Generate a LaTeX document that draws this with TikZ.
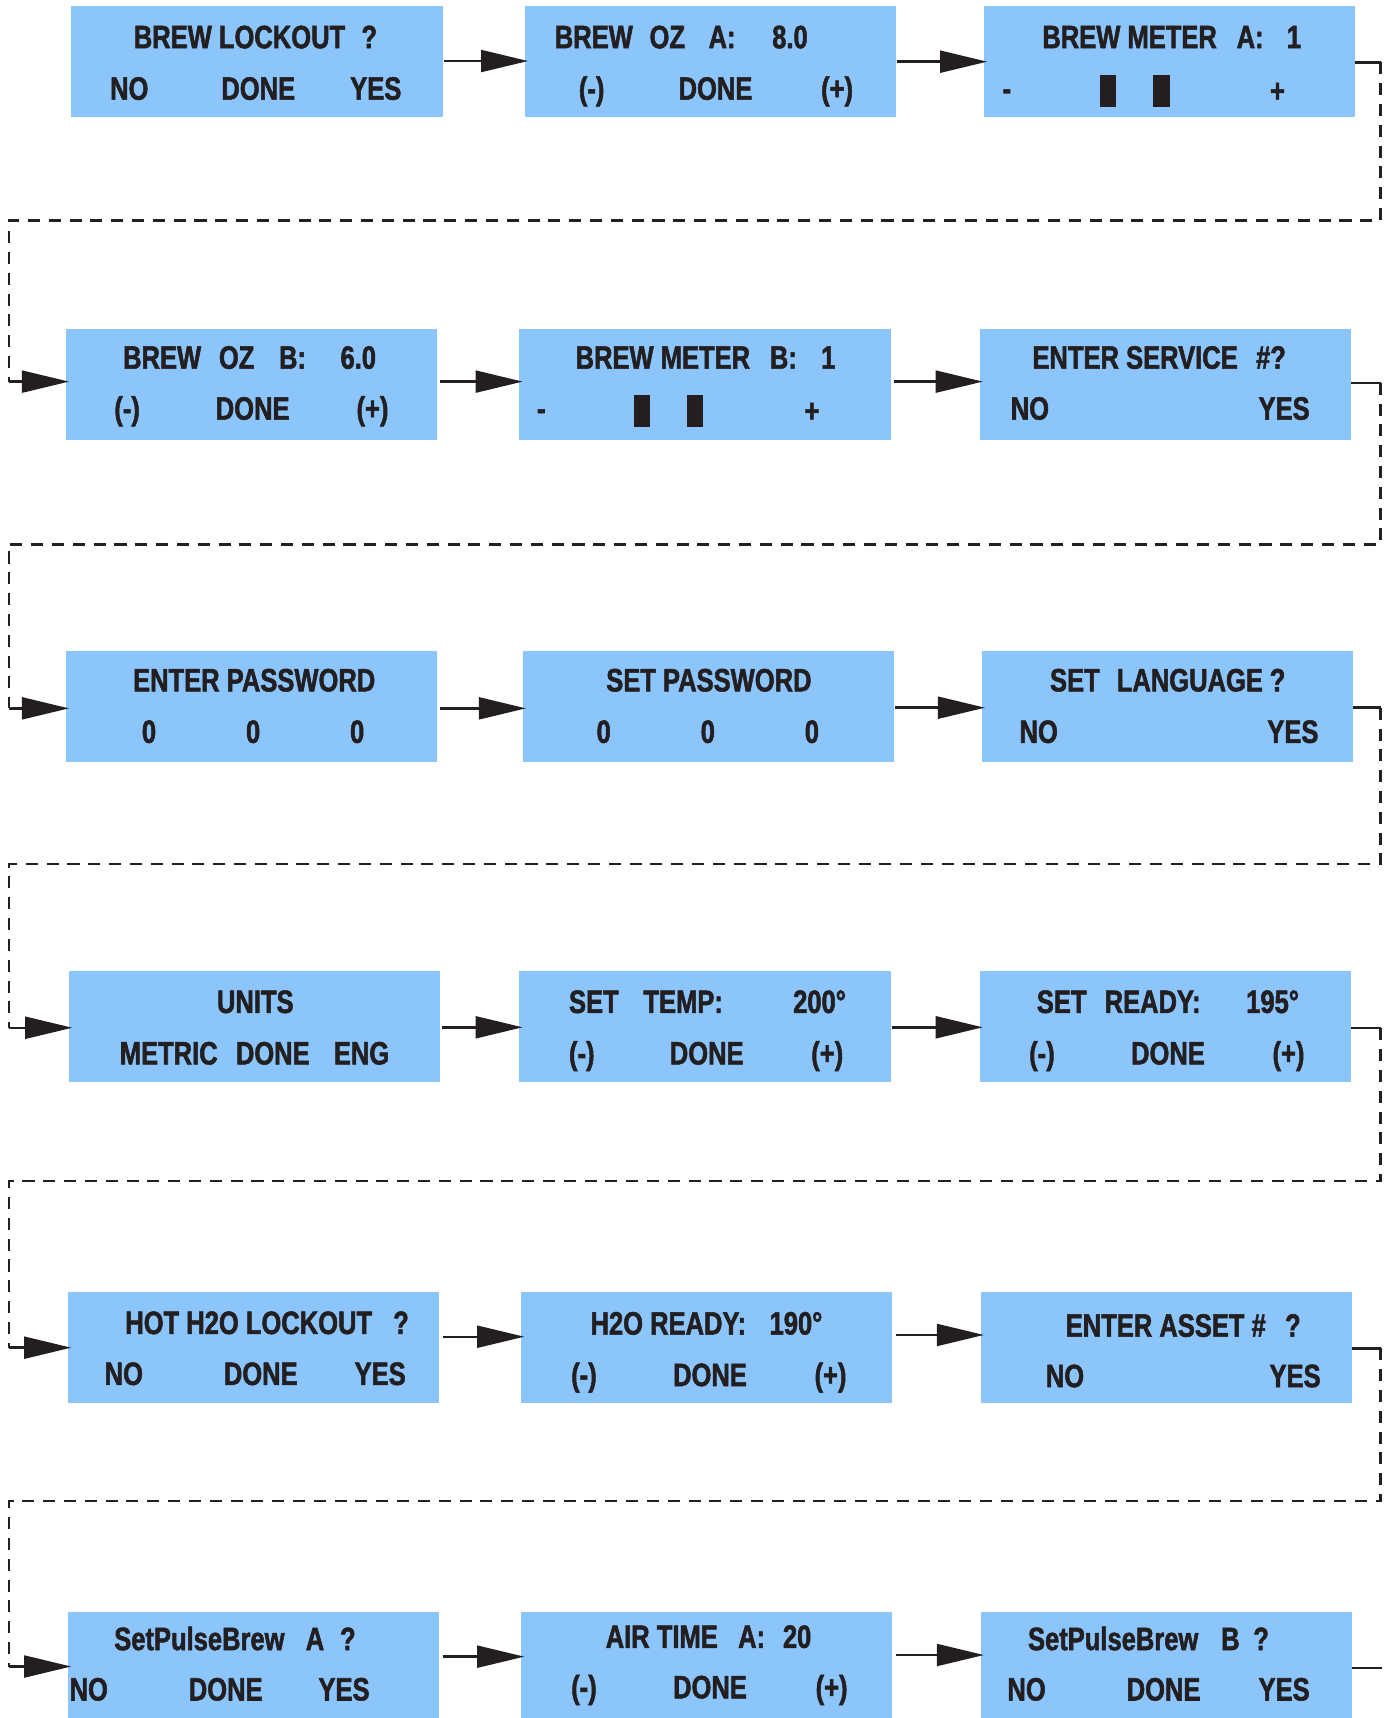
\documentclass[tikz,border=0pt]{standalone}
\usepackage{fontspec}
\newfontfamily\condfont{Liberation Sans}[UprightFont=* Bold, FakeStretch=0.79, FakeBold=1.6]
\usetikzlibrary{arrows.meta}
\definecolor{boxblue}{RGB}{139,197,252}
\definecolor{ink}{RGB}{35,31,32}
\newcounter{lblc}
\newcommand\lbl[3]{\stepcounter{lblc}\node[txt] (lbl\arabic{lblc}) at (#1,#2) {#3};}
\begin{document}
\begin{tikzpicture}[x=1pt,y=-1pt,
  box/.style={fill=boxblue, draw=none, minimum width=339pt, minimum height=101.5pt, inner sep=0pt, outer sep=0pt, anchor=north west},
  txt/.style={text=ink, font=\condfont\fontsize{29.5}{30}\selectfont, inner sep=0pt, anchor=base},
  arr/.style={draw=ink, line width=2.2pt, -{Triangle[length=43pt,width=20pt]}, shorten >=-3pt},
  conn/.style={draw=ink, line width=2.2pt},
  dline/.style={draw=ink, line width=2.2pt, dash pattern=on 11pt off 8pt}]
\useasboundingbox (0,0) rectangle (1265,1568);
\clip (0,0) rectangle (1265,1568);

% boxes
\node[box] (b1) at (65,5.5) {};
\node[box] (b2) at (479,5.5) {};
\node[box] (b3) at (898,5.5) {};
\node[box] (b4) at (60,300.5) {};
\node[box] (b5) at (474,300.5) {};
\node[box] (b6) at (894,300.5) {};
\node[box] (b7) at (60,594) {};
\node[box] (b8) at (477,594) {};
\node[box] (b9) at (896,594) {};
\node[box] (b10) at (63,886) {};
\node[box] (b11) at (474,886) {};
\node[box] (b12) at (894,886) {};
\node[box] (b13) at (62,1179) {};
\node[box] (b14) at (475.5,1179) {};
\node[box] (b15) at (895,1179) {};
\node[box] (b16) at (62,1471.5) {};
\node[box] (b17) at (475.5,1471.5) {};
\node[box] (b18) at (895,1471.5) {};

% row 1 texts
\lbl{218.6}{44}{BREW LOCKOUT}
\lbl{337}{44}{?}
\lbl{118}{91}{NO}\lbl{235.7}{91}{DONE}\lbl{343}{91}{YES}
\lbl{542}{44}{BREW}\lbl{609}{44}{OZ}\lbl{659}{44}{A:}\lbl{721}{44}{8.0}
\lbl{540}{91}{(-)}\lbl{653}{91}{DONE}\lbl{764}{91}{(+)}
\lbl{1031}{44}{BREW METER}\lbl{1141}{44}{A:}\lbl{1181}{44}{1}
\lbl{919}{91}{-}\lbl{1166}{93}{+}
\fill[ink] (1004,68.5) rectangle (1018.5,97.6);
\fill[ink] (1052,68.5) rectangle (1067.5,97.6);

% row 2 texts
\lbl{148}{336.5}{BREW}\lbl{216}{336.5}{OZ}\lbl{267}{336.5}{B:}\lbl{327}{336.5}{6.0}
\lbl{116}{383}{(-)}\lbl{230.6}{383}{DONE}\lbl{340}{383}{(+)}
\lbl{605}{336.5}{BREW METER}\lbl{715}{336.5}{B:}\lbl{756}{336.5}{1}
\lbl{494}{383}{-}\lbl{741}{385}{+}
\fill[ink] (578.6,360.5) rectangle (593,389.4);
\fill[ink] (627,360.5) rectangle (641.5,389.4);
\lbl{1036}{336.5}{ENTER SERVICE}\lbl{1160}{336.5}{\#?}
\lbl{940}{383}{NO}\lbl{1172}{383}{YES}

% row 3 texts
\lbl{232}{631}{ENTER PASSWORD}
\lbl{136}{678}{0}\lbl{231}{678}{0}\lbl{326}{678}{0}
\lbl{647}{631}{SET PASSWORD}
\lbl{551}{678}{0}\lbl{646}{678}{0}\lbl{741}{678}{0}
\lbl{981}{631}{SET}\lbl{1086}{631}{LANGUAGE}\lbl{1166}{631}{?}
\lbl{948}{678}{NO}\lbl{1180}{678}{YES}

% row 4 texts
\lbl{233}{924.5}{UNITS}
\lbl{154}{971.5}{METRIC}\lbl{249}{971.5}{DONE}\lbl{330}{971.5}{ENG}
\lbl{542}{924.5}{SET}\lbl{623.5}{924.5}{TEMP:}\lbl{748}{924.5}{200°}
\lbl{531}{971.5}{(-)}\lbl{645}{971.5}{DONE}\lbl{755}{971.5}{(+)}
\lbl{969}{924.5}{SET}\lbl{1052}{924.5}{READY:}\lbl{1161.5}{924.5}{195°}
\lbl{951}{971.5}{(-)}\lbl{1066}{971.5}{DONE}\lbl{1176}{971.5}{(+)}

% row 5 texts
\lbl{227}{1217.5}{HOT H2O LOCKOUT}\lbl{366}{1217.5}{?}
\lbl{113}{1264}{NO}\lbl{238}{1264}{DONE}\lbl{347}{1264}{YES}
\lbl{610}{1218}{H2O READY:}\lbl{726.5}{1218}{190°}
\lbl{533}{1265}{(-)}\lbl{648}{1265}{DONE}\lbl{758}{1265}{(+)}
\lbl{1064}{1220}{ENTER ASSET \#}\lbl{1180}{1220}{?}
\lbl{972}{1266}{NO}\lbl{1182}{1266}{YES}

% row 6 texts
\lbl{182}{1506}{SetPulseBrew}\lbl{287.5}{1506}{A}\lbl{317.5}{1506}{?}
\lbl{81}{1552}{NO}\lbl{206}{1552}{DONE}\lbl{314}{1552}{YES}
\lbl{604}{1504}{AIR TIME}\lbl{686}{1504}{A:}\lbl{727.5}{1504}{20}
\lbl{533}{1550}{(-)}\lbl{648}{1550}{DONE}\lbl{759}{1550}{(+)}
\lbl{1016}{1506}{SetPulseBrew}\lbl{1123}{1506}{B}\lbl{1151}{1506}{?}
\lbl{937}{1552}{NO}\lbl{1062}{1552}{DONE}\lbl{1172}{1552}{YES}

% arrows within rows
\draw[arr, shorten <=1pt] (b1.east |- 0,55.7) -- (b2.west |- 0,55.7);
\draw[arr, shorten <=1pt] (b2.east |- 0,56.3) -- (b3.west |- 0,56.3);
\draw[arr, shorten <=3pt] (b4.east |- 0,348.3) -- (b5.west |- 0,348.3);
\draw[arr, shorten <=3pt] (b5.east |- 0,348.3) -- (b6.west |- 0,348.3);
\draw[arr, shorten <=3pt] (b7.east |- 0,646.5) -- (b8.west |- 0,646.5);
\draw[arr, shorten <=1pt] (b8.east |- 0,645.9) -- (b9.west |- 0,645.9);
\draw[arr, shorten <=1pt] (b10.east |- 0,937.6) -- (b11.west |- 0,937.6);
\draw[arr, shorten <=1pt] (b11.east |- 0,937.6) -- (b12.west |- 0,937.6);
\draw[arr, shorten <=3pt] (b13.east |- 0,1220) -- (b14.west |- 0,1220);
\draw[arr, shorten <=3pt] (b14.east |- 0,1218.4) -- (b15.west |- 0,1218.4);
\draw[arr, shorten <=3pt] (b16.east |- 0,1512) -- (b17.west |- 0,1512);
\draw[arr, shorten <=3pt] (b17.east |- 0,1510.5) -- (b18.west |- 0,1510.5);

% row-to-row connectors
\coordinate (c1a) at (1260,56.9);
\coordinate (c1b) at (1260,201.4);
\coordinate (c1c) at (8,201.4);
\coordinate (c1d) at (8,348.3);
\draw[conn] (b3.east |- c1a) -- (c1a);
\draw[dline] (c1a) -- (c1b) -- (c1c) -- (c1d);
\draw[arr] (c1d) -- (b4.west |- c1d);

\coordinate (c2a) at (1260,349.3);
\coordinate (c2b) at (1260,496.8);
\coordinate (c2c) at (8,496.8);
\coordinate (c2d) at (8,646.5);
\draw[conn] (b6.east |- c2a) -- (c2a);
\draw[dline] (c2a) -- (c2b) -- (c2c) -- (c2d);
\draw[arr] (c2d) -- (b7.west |- c2d);

\coordinate (c3a) at (1260,645.9);
\coordinate (c3b) at (1260,788.5);
\coordinate (c3c) at (8,788.5);
\coordinate (c3d) at (8,938);
\draw[conn] (b9.east |- c3a) -- (c3a);
\draw[dline] (c3a) -- (c3b) -- (c3c) -- (c3d);
\draw[arr] (c3d) -- (b10.west |- c3d);

\coordinate (c4a) at (1260,938.5);
\coordinate (c4b) at (1260,1078);
\coordinate (c4c) at (8,1078);
\coordinate (c4d) at (8,1230);
\draw[conn] (b12.east |- c4a) -- (c4a);
\draw[dline] (c4a) -- (c4b) -- (c4c) -- (c4d);
\draw[arr] (c4d) -- (b13.west |- c4d);

\coordinate (c5a) at (1260,1230.6);
\coordinate (c5b) at (1260,1370);
\coordinate (c5c) at (8,1370);
\coordinate (c5d) at (8,1521);
\draw[conn] (b15.east |- c5a) -- (c5a);
\draw[dline] (c5a) -- (c5b) -- (c5c) -- (c5d);
\draw[arr] (c5d) -- (b16.west |- c5d);

\coordinate (c6a) at (1261,1522.6);
\draw[conn] (b18.east |- c6a) -- (c6a);
\end{tikzpicture}
\end{document}
